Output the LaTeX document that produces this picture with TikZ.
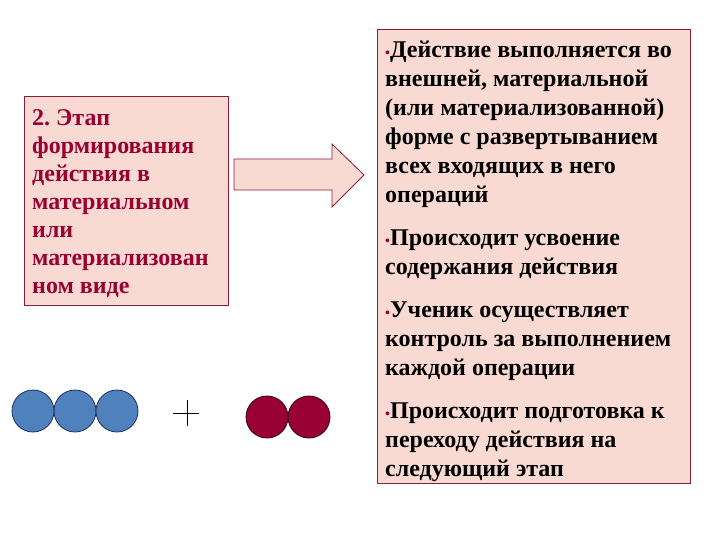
\documentclass[tikz,border=0pt]{standalone}
\usepackage{fontspec}
\setmainfont{Liberation Serif}
\definecolor{boxfill}{HTML}{F9DAD2}
\definecolor{boxline}{HTML}{8C1C3C}
\definecolor{wine}{HTML}{990033}
\definecolor{ballblue}{HTML}{4F81BD}
\definecolor{ballline}{HTML}{1F2F5F}
\newcommand{\dotmark}{\textcolor{wine}{\fontsize{14}{14}\selectfont•}}
\frenchspacing

\begin{document}
\begin{tikzpicture}[
  x=1pt,
  y=-1pt,
  line join=miter,
  stagebox/.style={
    draw=boxline,
    fill=boxfill,
    line width=1pt,
    inner sep=0pt,
    anchor=north west
  },
  stagetext/.style={
    font=\fontsize{24}{28}\selectfont\bfseries,
    text=wine,
    align=left,
    inner sep=0pt,
    anchor=north west
  },
  facttext/.style={
    font=\fontsize{24}{29}\selectfont\bfseries,
    align=left,
    inner sep=0pt,
    anchor=north west
  },
  blueball/.style={
    circle,
    draw=ballline,
    fill=ballblue,
    line width=0.8pt,
    minimum size=42pt,
    inner sep=0pt
  },
  redball/.style={
    circle,
    draw=black!70!wine,
    fill=wine,
    line width=0.8pt,
    minimum size=42pt,
    inner sep=0pt
  }
]

  % рамки
  \node[stagebox, minimum width=204pt, minimum height=209pt] (stage) at (24,96) {};
  \node[stagebox, minimum width=313pt, minimum height=454pt] (facts) at (377,29) {};

  % текст этапа
  \node[stagetext] (stagelabel) at (32,109)
    {2. Этап\\формирования\\действия в\\материальном\\или\\материализован\\ном виде};

  % стрелка
  \draw[draw=boxline, fill=boxfill, line width=0.8pt]
    (234,159) -- (332,159) -- (332,144) -- (364,175)
    -- (332,207) -- (332,190) -- (234,190) -- cycle;

  % список
  \node[facttext] (factlist) at (385,41)
    {\dotmark Действие выполняется во\\
     внешней, материальной\\
     (или материализованной)\\
     форме с развертыванием\\
     всех входящих в него\\
     операций\\[14pt]
     \dotmark Происходит усвоение\\
     содержания действия\\[14pt]
     \dotmark Ученик осуществляет\\
     контроль за выполнением\\
     каждой операции\\[14pt]
     \dotmark Происходит подготовка к\\
     переходу действия на\\
     следующий этап};

  % шарики
  \node[blueball] (b1) at (33,411) {};
  \node[blueball] (b2) at (75,411) {};
  \node[blueball] (b3) at (117,411) {};

  \draw[line width=0.8pt] (173,413) -- (199,413);
  \draw[line width=0.8pt] (187,400) -- (187,426);

  \node[redball] (r1) at (267,417) {};
  \node[redball] (r2) at (309,417) {};

  \path[use as bounding box] (0,0) rectangle (720,540);

\end{tikzpicture}
\end{document}
